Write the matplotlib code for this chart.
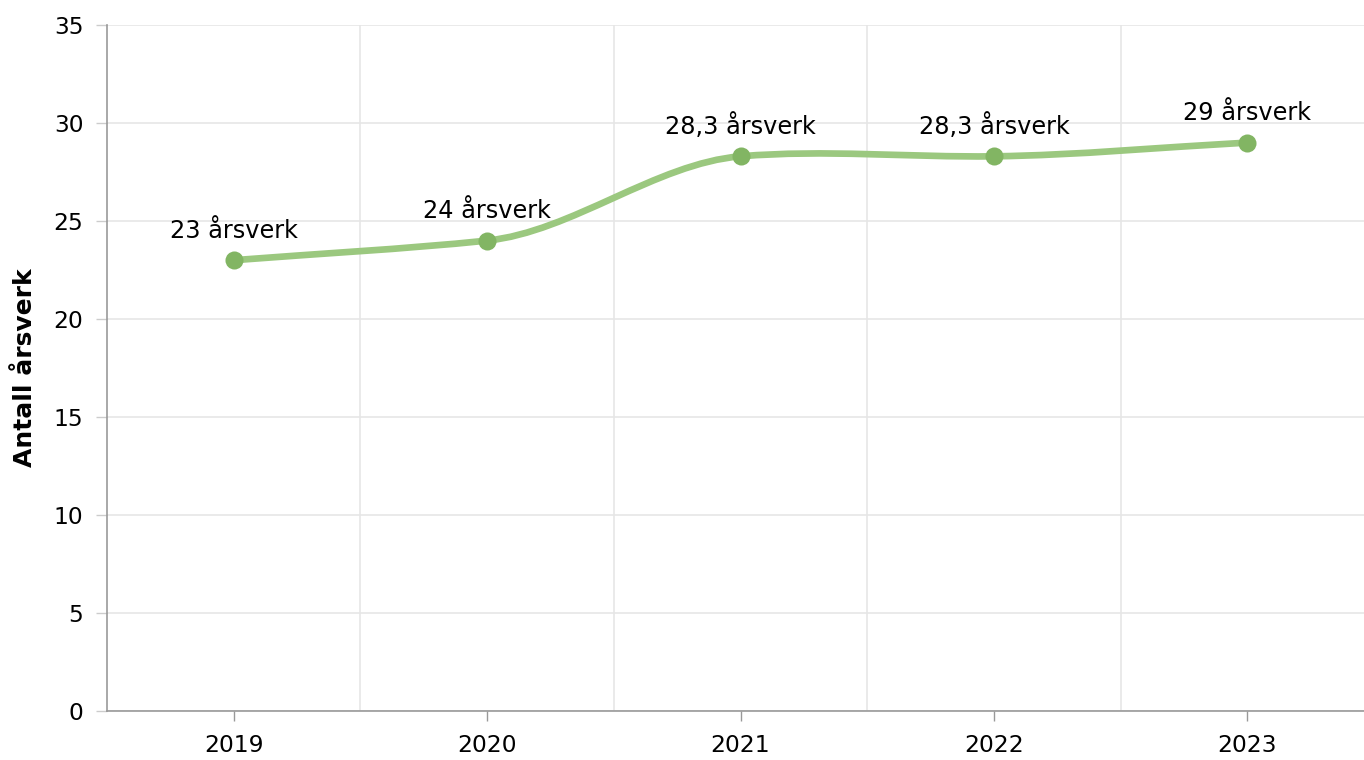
import numpy as np
import matplotlib
matplotlib.use("Agg")
import matplotlib.pyplot as plt
from matplotlib.path import Path
from matplotlib.patches import PathPatch

years = ["2019", "2020", "2021", "2022", "2023"]
values = [23, 24, 28.3, 28.3, 29]
labels = ["23 årsverk", "24 årsverk", "28,3 årsverk", "28,3 årsverk", "29 årsverk"]
y_label = "Antall årsverk"

line_color = "#9BC87F"
marker_color = "#82B563"
grid_color = "#e6e6e6"
axis_color = "#999999"

plt.rcParams['font.family'] = ['DejaVu Sans']

W, H = 1364, 760
fig = plt.figure(figsize=(W / 100, H / 100), dpi=100)
ax = fig.add_axes([107 / W, 1 - 711 / H, (1374 - 107) / W, (711 - 25) / H])

x = np.arange(len(values), dtype=float)
y = np.array(values, dtype=float)

ax.set_xlim(-0.5, len(values) - 0.5)
ax.set_ylim(0, 35)


def smooth_path(xs, ys, k=0.5):
    """Cubic Hermite curve through the points (cardinal-type tangents)."""
    n = len(xs)
    m = np.zeros(n)
    for i in range(n):
        if i == 0:
            m[i] = (ys[1] - ys[0]) / (xs[1] - xs[0])
        elif i == n - 1:
            m[i] = (ys[-1] - ys[-2]) / (xs[-1] - xs[-2])
        else:
            m[i] = k * (ys[i + 1] - ys[i - 1]) / (xs[i + 1] - xs[i - 1])
    verts = [(xs[0], ys[0])]
    codes = [Path.MOVETO]
    for i in range(n - 1):
        h = xs[i + 1] - xs[i]
        verts += [(xs[i] + h / 3, ys[i] + m[i] * h / 3),
                  (xs[i + 1] - h / 3, ys[i + 1] - m[i + 1] * h / 3),
                  (xs[i + 1], ys[i + 1])]
        codes += [Path.CURVE4] * 3
    return Path(verts, codes)


path = smooth_path(x, y)
ax.add_patch(PathPatch(path, facecolor='none', edgecolor=line_color, lw=4.8,
                       capstyle='round', joinstyle='round', zorder=3))
ax.plot(x, y, linestyle='none', marker='o', markersize=13, color=marker_color,
        markeredgewidth=0, zorder=4)

for xi, yi, lab in zip(x, y, labels):
    ax.annotate(lab, (xi, yi), xytext=(0, 16), textcoords='offset points',
                ha='center', va='baseline', fontsize=17.3, color='black', zorder=5)

ax.set_yticks(np.arange(0, 36, 5))
ax.set_xticks(x)
ax.set_xticklabels(years)
ax.set_xticks(np.arange(0.5, len(values) - 0.5, 1.0), minor=True)

ax.grid(axis='y', which='major', color=grid_color, lw=1.2, zorder=0)
ax.grid(axis='x', which='minor', color=grid_color, lw=1.2, zorder=0)
ax.set_axisbelow(True)

for s in ['top', 'right']:
    ax.spines[s].set_visible(False)
for s in ['left', 'bottom']:
    ax.spines[s].set_color(axis_color)
    ax.spines[s].set_linewidth(1.2)

ax.tick_params(axis='y', which='major', length=8, width=1, color='#cccccc',
               labelsize=16.8, pad=9, labelcolor='black')
ax.tick_params(axis='x', which='major', length=7.5, width=1, color=axis_color,
               labelsize=16.8, pad=9, labelcolor='black')
ax.tick_params(axis='x', which='minor', length=0)

ax.set_ylabel(y_label, fontsize=18, fontweight='bold')
ax.yaxis.set_label_coords((37 - 107) / (1374 - 107), 0.5)

fig.savefig("out.png", dpi=100)
